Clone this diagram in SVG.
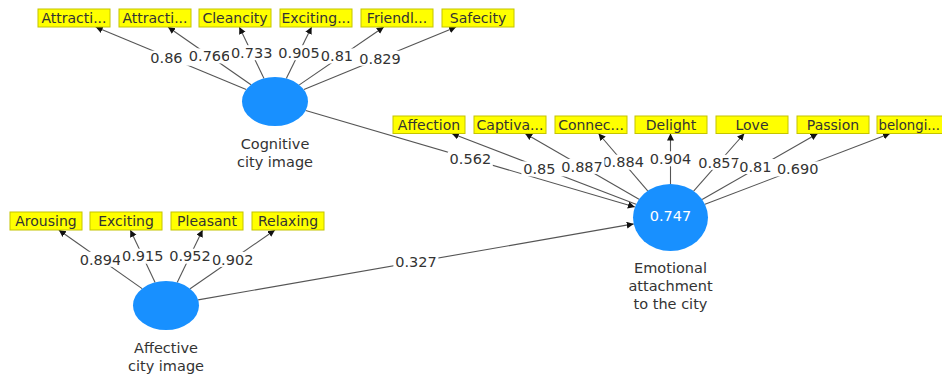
<svg xmlns="http://www.w3.org/2000/svg" width="942" height="375" viewBox="0 0 942 375">
<defs>
<marker id="ah" markerUnits="userSpaceOnUse" markerWidth="8" markerHeight="8" refX="7" refY="3.5" orient="auto">
<path d="M0,0 L7,3.5 L0,7 z" fill="#111"/>
</marker>
<style>
.ln{stroke:#555;stroke-width:1.1;fill:none;marker-end:url(#ah)}
.bg{fill:#fff}
.lb{font-family:"DejaVu Sans",sans-serif;font-size:14.5px;fill:#333}
.ind rect{fill:#ffff00;stroke:#c4c400;stroke-width:1}
.ind text{font-family:"DejaVu Sans",sans-serif;font-size:14px;fill:#333;text-anchor:middle}
.ind text.st{text-anchor:start}
.lv ellipse{fill:#1890ff}
.lv text{font-family:"DejaVu Sans",sans-serif;font-size:14.5px;fill:#333;text-anchor:middle}
.lv text.r2{fill:#fff}
</style>
</defs>
<rect width="942" height="375" fill="#fff"/>
<g id="connectors">
<line class="ln" x1="246.2" y1="89.5" x2="95.7" y2="27"/>
<line class="ln" x1="251" y1="84.8" x2="168" y2="27"/>
<line class="ln" x1="264" y1="78.5" x2="239.3" y2="27"/>
<line class="ln" x1="286.3" y1="78.5" x2="311.6" y2="27"/>
<line class="ln" x1="299.3" y1="84.9" x2="383.8" y2="27"/>
<line class="ln" x1="303.9" y1="89.6" x2="456.1" y2="27"/>
<line class="ln" x1="636" y1="204.3" x2="451.8" y2="133.5"/>
<line class="ln" x1="639" y1="199.3" x2="525.1" y2="133.5"/>
<line class="ln" x1="647.7" y1="190.9" x2="598.5" y2="133.5"/>
<line class="ln" x1="670.5" y1="184" x2="670.5" y2="133.5"/>
<line class="ln" x1="693.6" y1="191.2" x2="744.3" y2="133.5"/>
<line class="ln" x1="702.1" y1="199.5" x2="817.7" y2="133.5"/>
<line class="ln" x1="705" y1="204.3" x2="890.1" y2="133.5"/>
<line class="ln" x1="142.1" y1="288.6" x2="58.8" y2="230"/>
<line class="ln" x1="155.1" y1="282.4" x2="130.3" y2="230"/>
<line class="ln" x1="177.2" y1="282.4" x2="202.6" y2="230"/>
<line class="ln" x1="190.1" y1="288.8" x2="275" y2="230"/>
<line class="ln" x1="305.7" y1="110.5" x2="634.9" y2="207"/>
<line class="ln" x1="198.1" y1="299.9" x2="633.7" y2="223.9"/>
<g id="path-labels">
<rect class="bg" x="148.5" y="50.7" width="45" height="15"/><text class="lb" x="150.3" y="63.4">0.86</text>
<rect class="bg" x="187" y="48.4" width="45" height="15"/><text class="lb" x="188.8" y="61.1">0.766</text>
<rect class="bg" x="229.1" y="45.2" width="45" height="15"/><text class="lb" x="230.9" y="57.9">0.733</text>
<rect class="bg" x="276.5" y="45.2" width="45" height="15"/><text class="lb" x="278.3" y="57.9">0.905</text>
<rect class="bg" x="319" y="48.5" width="45" height="15"/><text class="lb" x="320.8" y="61.2">0.81</text>
<rect class="bg" x="357.5" y="50.8" width="45" height="15"/><text class="lb" x="359.3" y="63.5">0.829</text>
<rect class="bg" x="447.8" y="151.3" width="45" height="15"/><text class="lb" x="449.6" y="164">0.562</text>
<rect class="bg" x="521.4" y="161.4" width="45" height="15"/><text class="lb" x="523.2" y="174.1">0.85</text>
<rect class="bg" x="600.6" y="154.7" width="45" height="15"/><text class="lb" x="602.4" y="167.4">0.884</text>
<rect class="bg" x="559.5" y="158.9" width="45" height="15"/><text class="lb" x="561.3" y="171.6">0.887</text>
<rect class="bg" x="648" y="151.3" width="45" height="15"/><text class="lb" x="649.8" y="164">0.904</text>
<rect class="bg" x="696.5" y="154.8" width="45" height="15"/><text class="lb" x="698.3" y="167.5">0.857</text>
<rect class="bg" x="737.4" y="159" width="45" height="15"/><text class="lb" x="739.2" y="171.7">0.81</text>
<rect class="bg" x="775.1" y="161.4" width="45" height="15"/><text class="lb" x="776.9" y="174.1">0.690</text>
<rect class="bg" x="77.9" y="251.8" width="45" height="15"/><text class="lb" x="79.7" y="264.5">0.894</text>
<rect class="bg" x="120.2" y="248.7" width="45" height="15"/><text class="lb" x="122" y="261.4">0.915</text>
<rect class="bg" x="210.1" y="251.9" width="45" height="15"/><text class="lb" x="211.9" y="264.6">0.902</text>
<rect class="bg" x="167.4" y="248.7" width="45" height="15"/><text class="lb" x="169.2" y="261.4">0.952</text>
<rect class="bg" x="393.4" y="254.4" width="45" height="15"/><text class="lb" x="395.2" y="267.1">0.327</text>
</g>
</g>
<g id="cognitive" class="lv">
<ellipse cx="275" cy="101.5" rx="33" ry="24.5"/>
<text x="275" y="149">Cognitive</text>
<text x="275" y="167">city image</text>
</g>
<g id="affective" class="lv">
<ellipse cx="166" cy="305.5" rx="33" ry="24.5"/>
<text x="166" y="353">Affective</text>
<text x="166" y="371">city image</text>
</g>
<g id="emotional" class="lv">
<ellipse cx="670.5" cy="217.5" rx="37.5" ry="33.5"/>
<text class="r2" x="670.5" y="220.5">0.747</text>
<text x="670.5" y="272.7">Emotional</text>
<text x="670.5" y="290.7">attachment</text>
<text x="670.5" y="308.5">to the city</text>
</g>
<g id="ind-attractive1" class="ind"><rect x="38" y="9" width="72" height="18"/><text x="74" y="23.2">Attracti...</text></g>
<g id="ind-attractive2" class="ind"><rect x="119" y="9" width="72" height="18"/><text x="155" y="23.2">Attracti...</text></g>
<g id="ind-cleancity" class="ind"><rect x="199" y="9" width="72" height="18"/><text x="235" y="23.2">Cleancity</text></g>
<g id="ind-exciting-city" class="ind"><rect x="280" y="9" width="72" height="18"/><text x="316" y="23.2">Exciting...</text></g>
<g id="ind-friendly" class="ind"><rect x="361" y="9" width="72" height="18"/><text x="397" y="23.2">Friendl...</text></g>
<g id="ind-safecity" class="ind"><rect x="442" y="9" width="72" height="18"/><text x="478" y="23.2">Safecity</text></g>
<g id="ind-affection" class="ind"><rect x="393" y="116" width="72" height="17.5"/><text x="429" y="130.4">Affection</text></g>
<g id="ind-captiva" class="ind"><rect x="474" y="116" width="72" height="17.5"/><text x="510" y="130.4">Captiva...</text></g>
<g id="ind-connec" class="ind"><rect x="555" y="116" width="72" height="17.5"/><text x="591" y="130.4">Connec...</text></g>
<g id="ind-delight" class="ind"><rect x="635" y="116" width="72" height="17.5"/><text x="671" y="130.4">Delight</text></g>
<g id="ind-love" class="ind"><rect x="716" y="116" width="72" height="17.5"/><text x="752" y="130.4">Love</text></g>
<g id="ind-passion" class="ind"><rect x="797" y="116" width="72" height="17.5"/><text x="833" y="130.4">Passion</text></g>
<g id="ind-belonging" class="ind"><rect x="877" y="116" width="72" height="17.5"/><text class="st" x="878.5" y="130.4" textLength="61.5" lengthAdjust="spacingAndGlyphs">belongi...</text></g>
<g id="ind-arousing" class="ind"><rect x="10" y="212" width="72" height="18"/><text x="46" y="226.2">Arousing</text></g>
<g id="ind-exciting" class="ind"><rect x="90" y="212" width="72" height="18"/><text x="126" y="226.2">Exciting</text></g>
<g id="ind-pleasant" class="ind"><rect x="171" y="212" width="72" height="18"/><text x="207" y="226.2">Pleasant</text></g>
<g id="ind-relaxing" class="ind"><rect x="252" y="212" width="72" height="18"/><text x="288" y="226.2">Relaxing</text></g>
</svg>
